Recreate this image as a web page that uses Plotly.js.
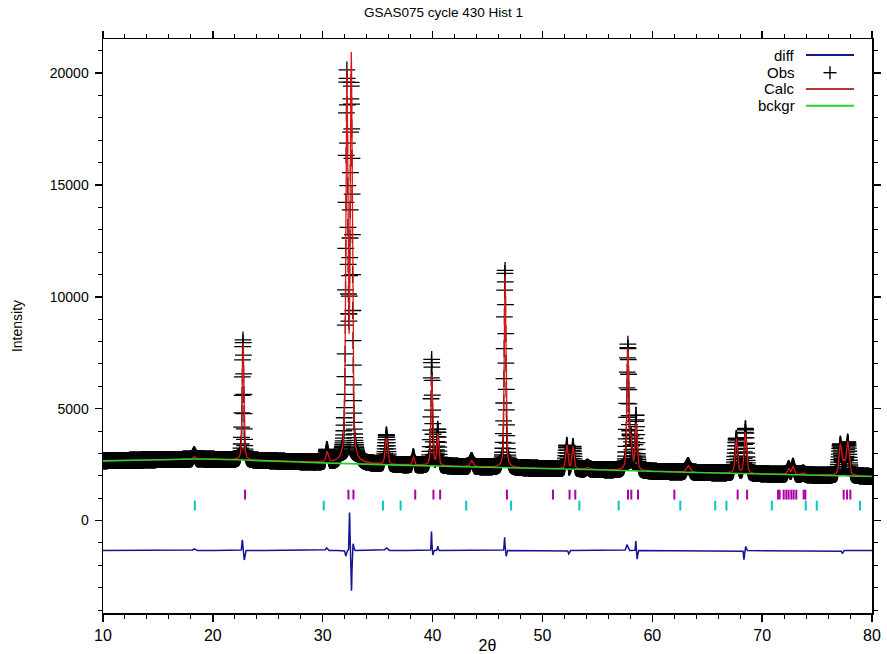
<!DOCTYPE html>
<html>
<head>
<meta charset="utf-8">
<script src="https://cdn.plot.ly/plotly-3.0.1.min.js"></script>
<style>
  html, body { margin: 0; padding: 0; background: #fff; }
  #plot { width: 887px; height: 654px; }
</style>
</head>
<body>
<div id="plot"></div>
<script>
// Scan range of the histogram (degrees 2θ)
const twoThetaStart = 10;
const twoThetaEnd = 80;
const twoThetaStep = 0.02;

// Background knots (2θ, counts)
const bkgX = [10, 15, 19, 25, 30, 37, 46, 55, 62, 70, 80];
const bkgY = [2670, 2720, 2750, 2670, 2580, 2480, 2370, 2270, 2170, 2080, 1970];

// Fitted reflections: centre (2θ), height above background (counts), FWHM (2θ)
const peakPos    = [18.30, 22.75, 30.40, 32.20, 32.60, 35.80, 38.25, 39.93, 40.47, 43.55,
                    46.60, 52.22, 52.78, 54.10, 57.78, 58.05, 58.53, 63.25, 67.65, 68.47,
                    72.41, 72.81, 73.72, 77.12, 77.45, 77.79];
const peakHeight = [120, 5300, 450, 17000, 17800, 1200, 380, 4100, 1400, 280,
                    8600, 1050, 1000, 100, 5400, 1200, 2100, 300, 1550, 1850,
                    250, 370, 80, 1350, 500, 1450];
const peakFwhm   = [0.25, 0.17, 0.25, 0.22, 0.22, 0.25, 0.20, 0.18, 0.20, 0.30,
                    0.18, 0.22, 0.22, 0.30, 0.20, 0.20, 0.22, 0.35, 0.25, 0.25,
                    0.25, 0.25, 0.30, 0.28, 0.28, 0.28];

// Residual features (Obs − Calc): centre, amplitude, gaussian sigma
const resPos   = [18.30, 22.68, 22.86, 30.35, 32.10, 32.44, 32.62, 32.78, 35.80, 39.90,
                  40.02, 40.47, 46.55, 46.70, 52.40, 57.70, 58.50, 58.62, 68.35, 68.50, 77.30];
const resAmp   = [80, 480, -420, 120, -250, 1700, -1800, 300, 120, 850,
                  -200, 200, 620, -250, -150, 250, 430, -380, -420, 180, -120];
const resSigma = [0.10, 0.04, 0.05, 0.08, 0.05, 0.035, 0.035, 0.05, 0.10, 0.03,
                  0.04, 0.04, 0.035, 0.04, 0.05, 0.08, 0.03, 0.04, 0.04, 0.05, 0.06];
const diffOffset = -1340;

// Reflection positions for the two phases
const phase1Ticks = [22.93, 32.34, 32.80, 38.42, 40.08, 40.69, 46.77, 50.96, 52.47, 52.99,
                     57.79, 58.09, 58.70, 62.01, 67.77, 68.63, 71.45, 71.59, 71.96, 72.20,
                     72.41, 72.66, 72.87, 73.11, 73.78, 73.93, 77.42, 77.73, 78.03];
const phase2Ticks = [18.36, 30.09, 35.48, 37.09, 43.06, 47.15, 53.36, 56.94, 62.55, 65.73,
                     66.75, 70.88, 73.97, 74.97, 78.91];
const phase1Level = 1160;
const phase2Level = 670;

// ---- profile evaluation ----
const eta = 0.5; // pseudo-Voigt mixing
function background(t) {
  for (let i = 0; i < bkgX.length - 1; i++) {
    if (t <= bkgX[i + 1]) {
      const f = (t - bkgX[i]) / (bkgX[i + 1] - bkgX[i]);
      return bkgY[i] + f * (bkgY[i + 1] - bkgY[i]);
    }
  }
  return bkgY[bkgY.length - 1];
}
function peaks(t) {
  let s = 0;
  for (let i = 0; i < peakPos.length; i++) {
    const u = (t - peakPos[i]) / peakFwhm[i];
    const u2 = 4 * u * u;
    s += peakHeight[i] * (eta / (1 + u2) + (1 - eta) * Math.exp(-Math.LN2 * u2));
  }
  return s;
}
function residual(t) {
  let s = 0;
  for (let i = 0; i < resPos.length; i++) {
    const d = (t - resPos[i]) / resSigma[i];
    s += resAmp[i] * Math.exp(-0.5 * d * d);
  }
  return s;
}

const tt = [], calc = [], obs = [], diff = [];
const n = Math.round((twoThetaEnd - twoThetaStart) / twoThetaStep);
for (let k = 0; k <= n; k++) {
  const t = twoThetaStart + k * twoThetaStep;
  const c = background(t) + peaks(t);
  const r = residual(t);
  tt.push(t);
  calc.push(c);
  obs.push(c + r);
  diff.push(diffOffset + r);
}

const traces = [
  { x: tt, y: obs, type: 'scatter', mode: 'markers', name: 'Obs',
    marker: { symbol: 'cross-thin-open', size: 12, color: '#000', line: { color: '#000', width: 1.3 } } },
  { x: tt, y: calc, type: 'scatter', mode: 'lines', name: 'Calc',
    line: { color: 'rgb(225,20,20)', width: 1.3 } },
  { x: bkgX, y: bkgY, type: 'scatter', mode: 'lines', name: 'bckgr',
    line: { color: 'rgb(40,210,40)', width: 1.6, shape: 'spline' } },
  { x: tt, y: diff, type: 'scatter', mode: 'lines', name: 'diff',
    line: { color: 'rgb(20,20,150)', width: 1.5 } },
  { x: phase1Ticks, y: phase1Ticks.map(() => phase1Level), type: 'scatter', mode: 'markers',
    marker: { symbol: 'line-ns-open', size: 7, color: 'rgb(170,0,170)', line: { color: 'rgb(170,0,170)', width: 2 } } },
  { x: phase2Ticks, y: phase2Ticks.map(() => phase2Level), type: 'scatter', mode: 'markers',
    marker: { symbol: 'line-ns-open', size: 7, color: 'rgb(0,200,200)', line: { color: 'rgb(0,200,200)', width: 2 } } }
];

// Key drawn at the upper right of the frame
const L = 103, R = 872, T = 39, B = 613;
const px = v => (v - L) / (R - L);
const py = v => (B - v) / (B - T);
const keyRows = [
  { label: 'diff',  y: 55,    color: 'rgb(20,20,150)' },
  { label: 'Obs',   y: 72.7,  color: null },
  { label: 'Calc',  y: 89,    color: 'rgb(190,50,50)' },
  { label: 'bckgr', y: 105.7, color: 'rgb(40,210,40)' }
];
const annotations = keyRows.map(r => ({
  text: r.label, xref: 'paper', yref: 'paper', x: px(797), y: py(r.y),
  xanchor: 'right', yanchor: 'middle', showarrow: false,
  font: { family: 'Liberation Sans, Arial, sans-serif', size: 15, color: '#000' }
}));
const shapes = [];
keyRows.forEach(r => {
  if (r.color) {
    shapes.push({ type: 'line', xref: 'paper', yref: 'paper',
      x0: px(806), x1: px(854), y0: py(r.y), y1: py(r.y), line: { color: r.color, width: 2 } });
  } else {
    shapes.push({ type: 'line', xref: 'paper', yref: 'paper',
      x0: px(823.5), x1: px(836.5), y0: py(r.y), y1: py(r.y), line: { color: '#000', width: 1.4 } });
    shapes.push({ type: 'line', xref: 'paper', yref: 'paper',
      x0: px(830), x1: px(830), y0: py(r.y - 6.5), y1: py(r.y + 6.5), line: { color: '#000', width: 1.4 } });
  }
});

const axisCommon = {
  showgrid: false, zeroline: false, showline: true, linecolor: '#000', linewidth: 1.5,
  mirror: 'allticks', ticks: 'outside', tickcolor: '#000', tickwidth: 1.5, ticklen: 7
};

const layout = {
  width: 887, height: 654,
  margin: { l: L, r: 887 - R, t: T, b: 654 - B },
  paper_bgcolor: '#fff', plot_bgcolor: '#fff',
  showlegend: false,
  title: { text: 'GSAS075 cycle 430 Hist 1', x: 0.5, xanchor: 'center', y: 1 - 12 / 654, yanchor: 'middle',
           font: { family: 'Liberation Sans, Arial, sans-serif', size: 13.5, color: '#000' } },
  xaxis: Object.assign({}, axisCommon, {
    range: [twoThetaStart, twoThetaEnd], dtick: 10, tick0: 0,
    minor: { dtick: 2, ticks: 'outside', ticklen: 4, tickwidth: 1, tickcolor: '#000' },
    tickfont: { family: 'Liberation Sans, Arial, sans-serif', size: 16, color: '#000' },
    title: { text: '2θ', standoff: 0,
             font: { family: 'Liberation Sans, Arial, sans-serif', size: 16, color: '#000' } }
  }),
  yaxis: Object.assign({}, axisCommon, {
    range: [-4130, 21520], dtick: 5000, tick0: 0, tickformat: 'd', ticklabelstandoff: 3,
    minor: { dtick: 1000, ticks: 'outside', ticklen: 4, tickwidth: 1, tickcolor: '#000' },
    tickfont: { family: 'Liberation Sans, Arial, sans-serif', size: 14, color: '#000' },
    title: { text: 'Intensity', standoff: 24,
             font: { family: 'Liberation Sans, Arial, sans-serif', size: 14, color: '#000' } }
  }),
  annotations: annotations,
  shapes: shapes
};

Plotly.newPlot('plot', traces, layout, { displayModeBar: false, staticPlot: true });
</script>
</body>
</html>
